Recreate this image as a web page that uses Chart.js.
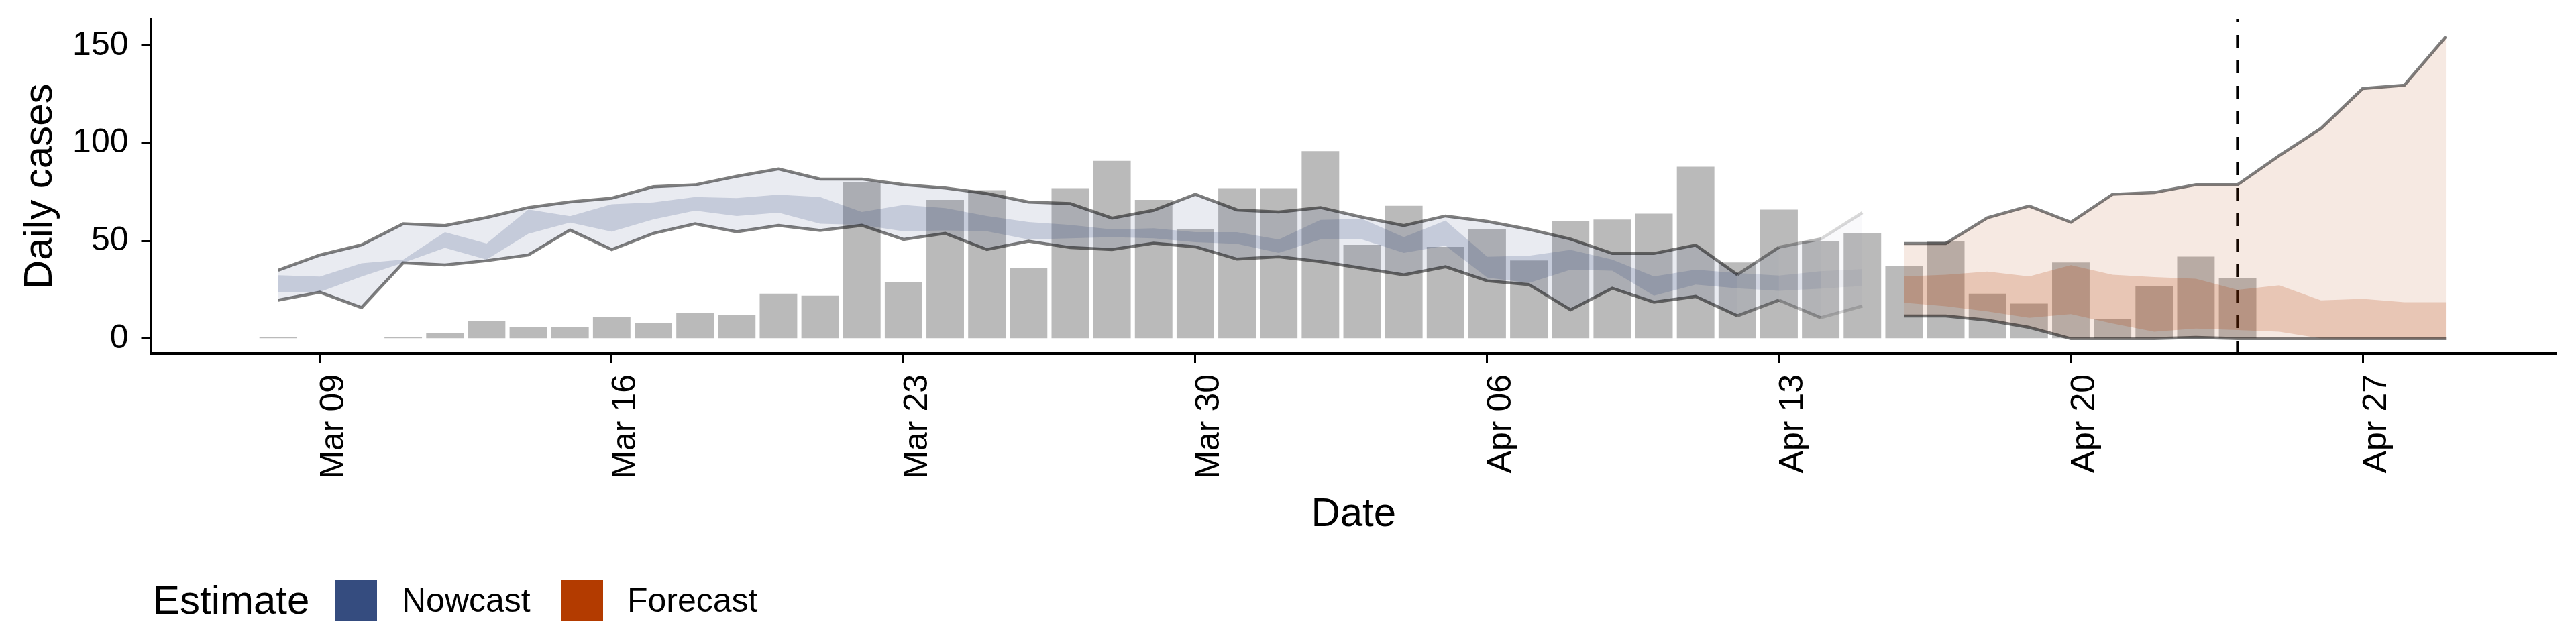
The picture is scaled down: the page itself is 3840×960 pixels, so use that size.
<!DOCTYPE html>
<html lang="en">
  <head>
    <meta charset="UTF-8" />
    <title>Daily cases - nowcast and forecast</title>
    <script src="https://cdn.jsdelivr.net/npm/chart.js"></script>
    <style>
      body { margin: 0; background: #fff; }
      #wrap { position: relative; width: 3840px; height: 960px; font-family: "Liberation Sans", Arial, sans-serif; }
      #casesChart { position: absolute; left: 0; top: 0; }
      .leg { position: absolute; color: #000; white-space: nowrap; }
      .leg-title { font-size: 60px; line-height: 70px; top: 860px; }
      .leg-key { width: 62px; height: 62px; top: 864px; }
      .leg-label { font-size: 50px; line-height: 62px; top: 864px; }
    </style>
  </head>
  <body>
    <div id="wrap">
      <canvas id="casesChart" width="3840" height="960"></canvas>
      <div class="leg leg-title" style="left: 228px">Estimate</div>
      <div class="leg leg-key" style="left: 500px; background: #354c7f"></div>
      <div class="leg leg-label" style="left: 599px">Nowcast</div>
      <div class="leg leg-key" style="left: 837px; background: #b33b00"></div>
      <div class="leg leg-label" style="left: 935px">Forecast</div>
    </div>

    <script>
      // reported cases (bars)
      const caseDates = [
        "03-08", "03-09", "03-10", "03-11", "03-12", "03-13", "03-14", "03-15",
        "03-16", "03-17", "03-18", "03-19", "03-20", "03-21", "03-22", "03-23",
        "03-24", "03-25", "03-26", "03-27", "03-28", "03-29", "03-30", "03-31",
        "04-01", "04-02", "04-03", "04-04", "04-05", "04-06", "04-07", "04-08",
        "04-09", "04-10", "04-11", "04-12", "04-13", "04-14", "04-15", "04-16",
        "04-17", "04-18", "04-19", "04-20", "04-21", "04-22", "04-23", "04-24",
      ];
      const dailyCases = [
        1, 0, 0, 1, 3, 9, 6, 6, 11, 8, 13, 12, 23, 22, 80, 29,
        71, 76, 36, 77, 91, 71, 56, 77, 77, 96, 48, 68, 47, 56, 40, 60,
        61, 64, 88, 39, 66, 50, 54, 37, 50, 23, 18, 39, 10, 27, 42, 31,
      ];

      // nowcast credible intervals
      const nowDates = [
        "03-08", "03-09", "03-10", "03-11", "03-12", "03-13", "03-14", "03-15",
        "03-16", "03-17", "03-18", "03-19", "03-20", "03-21", "03-22", "03-23",
        "03-24", "03-25", "03-26", "03-27", "03-28", "03-29", "03-30", "03-31",
        "04-01", "04-02", "04-03", "04-04", "04-05", "04-06", "04-07", "04-08",
        "04-09", "04-10", "04-11", "04-12", "04-13", "04-14", "04-15",
      ];
      const nowUpper90 = [
        35.0, 42.8, 48.0, 58.8, 57.9, 62.0, 67.1, 70.0, 71.9, 77.8, 78.7, 83.1, 86.9,
        81.7, 81.7, 78.8, 77.1, 74.3, 69.9, 69.1, 61.7, 65.7, 73.9, 65.9, 64.8, 67.1,
        62.2, 57.9, 62.8, 60.0, 56.0, 51.0, 43.6, 43.6, 47.9, 32.8, 46.8, 51.0, 64.5,
      ];
      const nowLower90 = [
        19.7, 23.8, 15.9, 38.8, 37.7, 39.9, 42.8, 55.6, 45.6, 53.9, 58.8, 54.7, 58.0,
        55.4, 58.0, 50.8, 53.9, 45.6, 49.9, 46.6, 45.6, 48.9, 47.0, 40.7, 41.9, 39.4,
        36.1, 32.7, 36.8, 29.6, 27.7, 14.7, 25.8, 18.7, 21.6, 11.7, 19.7, 10.7, 16.7,
      ];
      const nowUpper50 = [
        32.5, 31.8, 38.6, 40.5, 54.5, 48.7, 66.1, 62.7, 68.8, 69.7, 72.5, 72.0, 73.7,
        72.5, 64.8, 68.4, 66.8, 62.8, 59.7, 58.2, 55.9, 56.5, 54.5, 54.5, 50.8, 60.8,
        61.3, 52.0, 60.5, 41.9, 42.4, 45.4, 40.5, 31.9, 35.3, 33.6, 32.3, 34.5, 35.6,
      ];
      const nowLower50 = [
        23.7, 23.9, 31.8, 38.8, 46.5, 40.5, 53.7, 59.4, 54.8, 61.1, 65.5, 62.8, 64.5,
        58.8, 58.2, 55.0, 55.4, 55.0, 50.8, 51.4, 52.0, 51.4, 49.4, 48.5, 43.9, 50.8,
        50.8, 43.9, 47.6, 31.3, 28.5, 35.3, 34.8, 22.0, 27.7, 25.8, 24.5, 25.6, 27.0,
      ];

      // forecast credible intervals
      const fcDates = [
        "04-16", "04-17", "04-18", "04-19", "04-20", "04-21", "04-22",
        "04-23", "04-24", "04-25", "04-26", "04-27", "04-28", "04-29",
      ];
      const fcUpper90 = [48.7, 48.7, 61.9, 67.9, 59.6, 73.9, 74.8, 78.8, 78.8, 93.7, 107.6, 128.0, 129.7, 154.7];
      const fcLower90 = [11.6, 11.6, 9.5, 5.8, 0, 0, 0, 0.6, 0, 0, 0, 0, 0, 0];
      const fcUpper50 = [31.9, 32.7, 34.4, 31.9, 37.6, 32.7, 31.5, 30.7, 25.0, 27.3, 19.6, 20.4, 18.7, 18.7];
      const fcLower50 = [18.4, 16.6, 13.9, 10.7, 12.6, 7.8, 3.6, 5.2, 4.4, 3.6, 0.1, 0, 0, 0];

      const forecastStart = "04-24";
      const xTickDates = ["03-09", "03-16", "03-23", "03-30", "04-06", "04-13", "04-20", "04-27"];
      const xTickLabels = ["Mar 09", "Mar 16", "Mar 23", "Mar 30", "Apr 06", "Apr 13", "Apr 20", "Apr 27"];
      const yTicks = [0, 50, 100, 150];

      const X_MIN = -4.06;
      const X_MAX = 53.65;
      const Y_MIN = -7.6;
      const Y_MAX = 163.5;

      const NOW_RGB = "53,76,127";
      const FC_RGB = "179,59,0";

      const origin = Date.UTC(2020, 2, 9);
      function dayNum(md) {
        const [m, d] = md.split("-").map(Number);
        return (Date.UTC(2020, m - 1, d) - origin) / 86400000;
      }
      function pts(dates, vals) {
        return dates.map((d, i) => ({ x: dayNum(d), y: vals[i] }));
      }

      // estimates based on partial data fade out towards the end
      function fade(dates, i) {
        const d = dayNum(dates[i]);
        if (d < 34) return 1;
        if (d < 35) return 0.8;
        if (d < 36) return 0.55;
        return 0.3;
      }

      function ribbon(dates, hi, lo, rgb, alpha, faded) {
        const top = {
          type: "line",
          data: pts(dates, hi),
          fill: "+1",
          borderWidth: 0,
          pointRadius: 0,
          backgroundColor: `rgba(${rgb},${alpha})`,
          order: 5,
        };
        if (faded) {
          top.segment = {
            backgroundColor: (ctx) => `rgba(${rgb},${alpha * fade(dates, ctx.p0DataIndex)})`,
          };
        }
        const bottom = {
          type: "line",
          data: pts(dates, lo),
          fill: false,
          borderWidth: 0,
          pointRadius: 0,
          order: 5,
        };
        return [top, bottom];
      }

      function bound(dates, vals, faded) {
        const ds = {
          type: "line",
          data: pts(dates, vals),
          fill: false,
          borderColor: "rgba(0,0,0,0.5)",
          borderWidth: 4.5,
          pointRadius: 0,
          order: 1,
        };
        if (faded) {
          ds.segment = {
            borderColor: (ctx) => `rgba(0,0,0,${0.5 * fade(dates, ctx.p0DataIndex)})`,
          };
        }
        return ds;
      }

      const datasets = [
        ...ribbon(nowDates, nowUpper90, nowLower90, NOW_RGB, 0.11, true),
        ...ribbon(nowDates, nowUpper50, nowLower50, NOW_RGB, 0.2, true),
        ...ribbon(fcDates, fcUpper90, fcLower90, FC_RGB, 0.115, false),
        ...ribbon(fcDates, fcUpper50, fcLower50, FC_RGB, 0.2, false),
        bound(nowDates, nowUpper90, true),
        bound(nowDates, nowLower90, true),
        bound(fcDates, fcUpper90, false),
        bound(fcDates, fcLower90, false),
        {
          type: "bar",
          data: pts(caseDates, dailyCases),
          backgroundColor: "#bababa",
          borderWidth: 0,
          categoryPercentage: 1.0,
          barPercentage: 0.9,
          order: 10,
        },
        {
          type: "line",
          data: [
            { x: dayNum(forecastStart), y: Y_MIN },
            { x: dayNum(forecastStart), y: Y_MAX },
          ],
          borderColor: "#000",
          borderWidth: 4.5,
          borderDash: [19, 19],
          pointRadius: 0,
          fill: false,
          order: 8,
        },
      ];

      Chart.defaults.font.family = "'Liberation Sans', Arial, sans-serif";
      Chart.defaults.color = "#000";

      const ctx = document.getElementById("casesChart").getContext("2d");
      new Chart(ctx, {
        type: "line",
        data: { datasets },
        options: {
          responsive: false,
          animation: false,
          devicePixelRatio: 1,
          layout: { padding: { left: 0, right: 29, top: 28.6, bottom: 0 } },
          plugins: { legend: { display: false }, tooltip: { enabled: false } },
          scales: {
            x: {
              type: "linear",
              min: X_MIN,
              max: X_MAX,
              offset: false,
              afterFit: (scale) => {
                scale.height = 433;
                scale.paddingLeft = 0;
                scale.paddingRight = 0;
              },
              afterBuildTicks: (scale) => {
                scale.ticks = xTickDates.map((d) => ({ value: dayNum(d) }));
              },
              ticks: {
                autoSkip: false,
                maxRotation: 90,
                minRotation: 90,
                padding: 17,
                labelOffset: 21,
                color: "#000",
                font: { size: 50 },
                callback: (v, i) => xTickLabels[i],
              },
              grid: {
                display: true,
                offset: false,
                drawOnChartArea: false,
                drawTicks: true,
                tickLength: 14,
                tickWidth: 3,
                tickColor: "#000",
              },
              border: { display: true, color: "#000", width: 4 },
              title: {
                display: true,
                text: "Date",
                color: "#000",
                font: { size: 60 },
                padding: { top: 0, bottom: 157 },
              },
            },
            y: {
              type: "linear",
              min: Y_MIN,
              max: Y_MAX,
              afterFit: (scale) => {
                scale.width = 224.5;
                scale.paddingTop = 0;
                scale.paddingBottom = 0;
              },
              afterBuildTicks: (scale) => {
                scale.ticks = yTicks.map((v) => ({ value: v }));
              },
              ticks: {
                padding: 19,
                color: "#000",
                font: { size: 50 },
                callback: (v) => String(v),
              },
              grid: {
                display: true,
                drawOnChartArea: false,
                drawTicks: true,
                tickLength: 14,
                tickWidth: 3,
                tickColor: "#000",
              },
              border: { display: true, color: "#000", width: 4 },
              title: {
                display: true,
                text: "Daily cases",
                color: "#000",
                font: { size: 60 },
                padding: { top: 24, bottom: 0 },
              },
            },
          },
        },
      });
    </script>
  </body>
</html>
